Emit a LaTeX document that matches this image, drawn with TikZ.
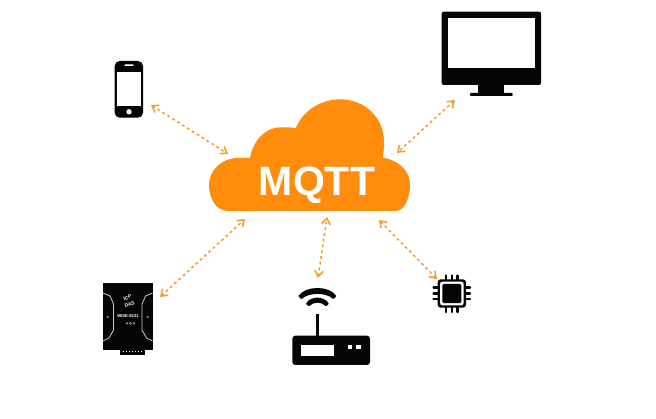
\documentclass[tikz,border=0pt]{standalone}
\usepackage{fontspec}
\setmainfont{Liberation Sans}
\usetikzlibrary{arrows.meta}
\definecolor{mqttorange}{HTML}{FF8C0A}
\definecolor{linkorange}{HTML}{F79A2B}
\definecolor{iconblack}{HTML}{050505}
\tikzset{
  x=1pt,y=-1pt,
  link/.style={draw=linkorange,line width=1.5pt,dash pattern=on 2.8pt off 3pt,
    {Straight Barb[length=6pt,width=8.5pt,line width=1.5pt]}-{Straight Barb[length=6pt,width=8.5pt,line width=1.5pt]}},
  blackfill/.style={fill=iconblack,draw=none},
  whitefill/.style={fill=white,draw=none},
  pin/.style={draw=iconblack,line width=2.4pt,line cap=round},
  wiseline/.style={draw=black!20,line width=.8pt},
}
\begin{document}
\begin{tikzpicture}
\useasboundingbox (0,0) rectangle (656,419);
\fill[white] (0,0) rectangle (656,419);
% cloud
\fill[mqttorange] (227,210.8)
  .. controls (216,210.8) and (209,198) .. (209,185)
  .. controls (209,170) and (222,158) .. (238,158)
  -- (250,158)
  .. controls (253,141) and (265,127.5) .. (280,127.3)
  .. controls (287,127.2) and (292,127.5) .. (296,128)
  .. controls (302,112) and (320,99.3) .. (340,99.3)
  .. controls (365,99.3) and (384,118) .. (384,142)
  .. controls (384,148) and (383.5,153) .. (382.7,157.7)
  .. controls (398,160) and (410,170) .. (410,185)
  .. controls (410,198) and (404,210.8) .. (396.7,210.8)
  -- cycle;
\node[text=white,font=\bfseries\fontsize{41}{41}\selectfont,inner sep=0pt] (mqtt) at (317,185) {MQTT};
% phone
\fill[blackfill,rounded corners=5pt] (114.7,61) rectangle (143,117.7);
\fill[whitefill] (117.3,71.7) rectangle (140.7,106);
\fill[whitefill,rounded corners=.5pt] (124.5,64.3) rectangle (133.5,66);
\fill[whitefill] (129,111.8) circle[radius=2.7];
% monitor
\fill[blackfill,rounded corners=2pt] (441.7,11.7) rectangle (541,85);
\fill[whitefill] (447.7,17.7) rectangle (535,68.3);
\fill[blackfill] (478.3,85) rectangle (504.3,93);
\fill[blackfill,rounded corners=.8pt] (470,93) rectangle (512.7,96);
% router
\fill[blackfill,rounded corners=3pt] (292.3,335.7) rectangle (370,365);
\fill[whitefill] (300.7,345) rectangle (334,356);
\fill[whitefill] (347.7,345) rectangle (352.3,349.3);
\fill[whitefill] (355.7,345) rectangle (360.7,349.3);
\fill[blackfill] (315.7,314) rectangle (319,336);
\fill[blackfill,rounded corners=.8pt] (298.2,296.2)
  .. controls (306,285.5) and (329,285.5) .. (336.5,296.2)
  -- (333.5,299.3)
  .. controls (326,292.3) and (309,292.3) .. (301.3,299.3) -- cycle;
\fill[blackfill,rounded corners=.8pt] (305.8,303.8)
  .. controls (311,295.8) and (323.5,295.8) .. (329,303.8)
  -- (326,306.4)
  .. controls (321,301.6) and (314,301.6) .. (308.8,306.4) -- cycle;
% chip
\foreach \p in {446,451.7,457.3}{
  \draw[pin] (\p,275.5) -- (\p,312);
}
\foreach \p in {287.7,293.5,299.3}{
  \draw[pin] (433.5,\p) -- (470,\p);
}
\fill[blackfill,rounded corners=3pt] (437.7,279.3) rectangle (466,307.7);
\fill[whitefill,rounded corners=2.5pt] (440,281.6) rectangle (463.7,305.4);
\fill[blackfill,rounded corners=2pt] (442.3,283.9) rectangle (461.4,303.1);
% WISE device
\fill[blackfill] (102.7,283.3) rectangle (152.7,350);
\fill[blackfill] (120,350) rectangle (145,355);
\foreach \p in {122.5,125.5,...,143}{
  \fill[white] (\p,351.2) rectangle ++(1.5,1.2);
}
\draw[wiseline] (103,293) -- (110,296) -- (113.5,304) -- (113.5,330) -- (109,338) -- (103,341);
\draw[wiseline] (152.5,293) -- (145.5,296) -- (142,304) -- (142,330) -- (146.5,338) -- (152.5,341);
\node[rotate=18,text=white,font=\bfseries\fontsize{4.8}{7}\selectfont,inner sep=0pt,align=center] (wiselogo) at (128.5,301) {ICP\\DAS};
\node[text=white,font=\bfseries\fontsize{4.2}{4.2}\selectfont,inner sep=0pt] (wisename) at (128,316) {WISE-8231};
\foreach \p in {127,130.5,134}{
  \draw[draw=black!25,line width=.4pt] (\p,323.3) circle[radius=1];
}
\draw[draw=black!20,line width=.5pt] (107,316) -- (108.5,317) -- (107,318);
\draw[draw=black!20,line width=.5pt] (148.5,316) -- (147,317) -- (148.5,318);
% connector ends
\coordinate (phoneend) at (151,105);
\coordinate (cloudphone) at (228,154);
\coordinate (monitorend) at (455,100);
\coordinate (cloudmonitor) at (397,153);
\coordinate (wiseend) at (160,297);
\coordinate (cloudwise) at (245,219);
\coordinate (routerend) at (318,278);
\coordinate (cloudrouter) at (327,217);
\coordinate (chipend) at (437,279);
\coordinate (cloudchip) at (379,220);
\draw[link] (phoneend) -- (cloudphone);
\draw[link] (monitorend) -- (cloudmonitor);
\draw[link] (wiseend) -- (cloudwise);
\draw[link] (routerend) -- (cloudrouter);
\draw[link] (chipend) -- (cloudchip);
\end{tikzpicture}
\end{document}
